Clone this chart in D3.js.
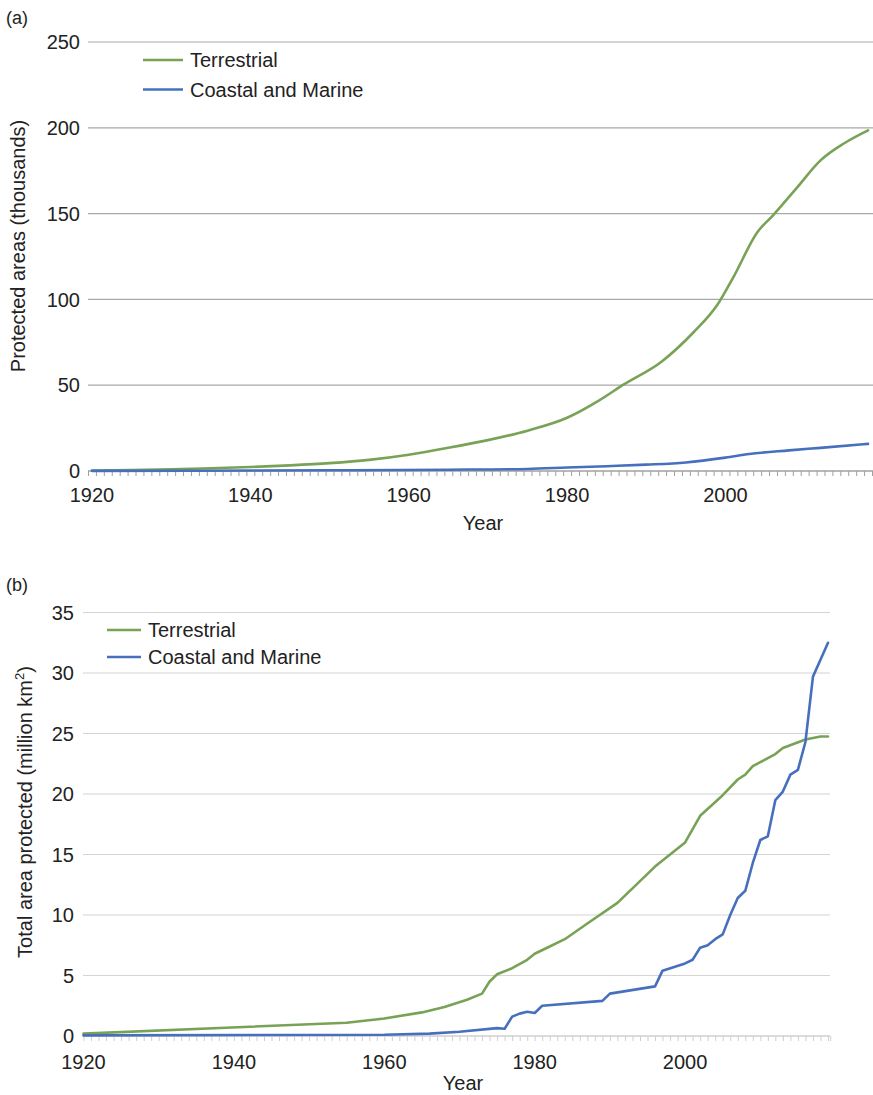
<!DOCTYPE html>
<html>
<head>
<meta charset="utf-8">
<script src="https://cdn.jsdelivr.net/npm/d3@7"></script>
<style>
  body { margin: 0; background: #fff; }
  svg { display: block; }
  text { font-family: "Liberation Sans", Arial, Helvetica, sans-serif; fill: #222; }
</style>
</head>
<body>
<svg id="chart" width="873" height="1095"></svg>
<script>
// ---------- DATA ----------
const seriesNames = ["Terrestrial", "Coastal and Marine"];
const seriesColors = ["#78a356", "#4670bd"];

// (a) Number of protected areas (thousands)
const aTerrestrialYears = [1920,1925,1930,1935,1940,1945,1950,1955,1960,1965,1970,1975,1980,1984,1987,1992,1996,1999,2001,2004,2006,2009,2012,2015,2018];
const aTerrestrialValues = [0.3,0.6,1.0,1.6,2.3,3.3,4.6,6.5,9.5,13.5,18,23.5,31,41,50,64,81,97,113,139,149,165,181,191,198.5];
const aMarineYears = [1920,1950,1965,1975,1980,1985,1990,1995,2000,2003,2008,2012,2018];
const aMarineValues = [0.1,0.4,0.75,1.2,2.0,2.8,3.7,5.0,7.8,9.9,12.0,13.5,15.8];
const aYTicks = [0,50,100,150,200,250];
const aXLabels = [1920,1940,1960,1980,2000];

// (b) Total area protected (million km2)
const bTerrestrialYears = [1920,1955,1960,1965,1968,1971,1973,1974,1975,1977,1979,1980,1982,1984,1987,1991,1996,2000,2002,2005,2007,2008,2009,2012,2013,2016,2018,2019];
const bTerrestrialValues = [0.2,1.1,1.45,1.95,2.4,3.0,3.5,4.5,5.1,5.6,6.3,6.8,7.4,8.0,9.3,11.0,14.0,16.0,18.2,19.9,21.2,21.6,22.3,23.3,23.8,24.5,24.75,24.75];
const bMarineYears = [1920,1960,1966,1970,1975,1976,1977,1978,1979,1980,1981,1989,1990,1996,1997,2000,2001,2002,2003,2004,2005,2006,2007,2008,2009,2010,2011,2012,2013,2014,2015,2016,2017,2018,2019];
const bMarineValues = [0.05,0.1,0.2,0.35,0.65,0.6,1.6,1.85,2.0,1.9,2.5,2.9,3.5,4.1,5.4,6.0,6.3,7.3,7.5,8.0,8.4,10.0,11.4,12.0,14.3,16.2,16.5,19.5,20.2,21.6,22.0,24.3,29.7,31.1,32.5];
const bYTicks = [0,5,10,15,20,25,30,35];
const bXLabels = [1920,1940,1960,1980,2000];

// ---------- DRAW ----------
const svg = d3.select("#chart");
const zip = (xs, ys) => xs.map((x, i) => ({x, y: ys[i]}));

function panel(cfg) {
  const g = svg.append("g");
  const x = d3.scaleLinear().domain(cfg.xDomain).range(cfg.xRange);
  const y = d3.scaleLinear().domain(cfg.yDomain).range(cfg.yRange);

  // gridlines
  g.append("g").selectAll("line").data(cfg.yTicks.filter(t => t !== 0)).join("line")
    .attr("x1", cfg.gridX[0]).attr("x2", cfg.gridX[1])
    .attr("y1", d => y(d)).attr("y2", d => y(d))
    .attr("stroke", cfg.gridColor).attr("stroke-width", 1.2);

  // y labels
  g.append("g").selectAll("text").data(cfg.yTicks).join("text")
    .attr("x", cfg.yLabelX).attr("y", d => y(d)).attr("dy", "0.36em")
    .attr("text-anchor", "end").attr("font-size", 20).text(d => d);

  // x axis with minor ticks
  const xAxis = d3.axisBottom(x).tickValues(cfg.tickYears).tickSize(5).tickFormat("");
  const ax = g.append("g").attr("transform", `translate(0,${y(0)})`).call(xAxis);
  ax.select(".domain").remove();
  ax.selectAll(".tick line").attr("stroke", cfg.axisColor).attr("stroke-width", 1);
  g.append("line").attr("x1", cfg.gridX[0]).attr("x2", cfg.gridX[1])
    .attr("y1", y(0)).attr("y2", y(0)).attr("stroke", cfg.axisColor).attr("stroke-width", 1.5);

  // x labels
  g.append("g").selectAll("text").data(cfg.xLabels).join("text")
    .attr("x", d => x(d)).attr("y", cfg.xLabelY).attr("text-anchor", "middle")
    .attr("font-size", 20).text(d => d);

  // lines
  const line = d3.line().x(d => x(d.x)).y(d => y(d.y)).curve(cfg.curve);
  cfg.series.forEach((s, i) => {
    g.append("path").datum(s).attr("d", line).attr("fill", "none")
      .attr("stroke", seriesColors[i]).attr("stroke-width", 2.6)
      .attr("stroke-linejoin", "round").attr("stroke-linecap", "round");
  });

  // legend
  seriesNames.forEach((n, i) => {
    const ly = cfg.legendY[i];
    g.append("line").attr("x1", cfg.legendX[0]).attr("x2", cfg.legendX[1])
      .attr("y1", ly).attr("y2", ly).attr("stroke", seriesColors[i]).attr("stroke-width", 2.6);
    g.append("text").attr("x", cfg.legendX[1] + 7).attr("y", ly).attr("dy", "0.36em")
      .attr("font-size", 20).text(n);
  });

  // axis titles
  g.append("text").attr("x", cfg.xTitle[0]).attr("y", cfg.xTitle[1])
    .attr("text-anchor", "middle").attr("font-size", 20).text("Year");
  const yt = g.append("text")
    .attr("transform", `translate(${cfg.yTitle[0]},${cfg.yTitle[1]}) rotate(-90)`)
    .attr("text-anchor", "middle").attr("font-size", 20);
  cfg.yTitleParts.forEach(p => {
    const t = yt.append("tspan").text(p.t);
    if (p.sup) t.attr("font-size", 13).attr("dy", -8);
    if (p.after) t.attr("dy", 8);
  });

  // panel letter
  g.append("text").attr("x", 6).attr("y", cfg.letterY).attr("font-size", 18).text(cfg.letter);
}

const aTicks = d3.range(1919.5, 2019, 1);
panel({
  xDomain: [1919.5, 2018.5], xRange: [88, 872],
  yDomain: [0, 250], yRange: [471, 42],
  gridX: [88, 873], gridColor: "#a8a8a8", axisColor: "#a0a0a0",
  yTicks: aYTicks, yLabelX: 80,
  tickYears: aTicks, xLabels: aXLabels, xLabelY: 502,
  curve: d3.curveMonotoneX,
  series: [zip(aTerrestrialYears, aTerrestrialValues), zip(aMarineYears, aMarineValues)],
  legendX: [143, 183], legendY: [60, 89.5],
  xTitle: [483, 530], yTitle: [25, 246],
  yTitleParts: [{t: "Protected areas (thousands)"}],
  letter: "(a)", letterY: 24
});

const bTicks = d3.range(1920, 2020, 1).concat([2019.3]);
panel({
  xDomain: [1920, 2019], xRange: [83.5, 828],
  yDomain: [0, 35], yRange: [1036, 612.5],
  gridX: [83, 830], gridColor: "#d4d4d4", axisColor: "#cfcfcf",
  yTicks: bYTicks, yLabelX: 74,
  tickYears: bTicks, xLabels: bXLabels, xLabelY: 1069,
  curve: d3.curveLinear,
  series: [zip(bTerrestrialYears, bTerrestrialValues), zip(bMarineYears, bMarineValues)],
  legendX: [107, 141], legendY: [630, 657],
  xTitle: [463, 1090], yTitle: [32, 812],
  yTitleParts: [{t: "Total area protected (million km"}, {t: "2", sup: true}, {t: ")", after: true}],
  letter: "(b)", letterY: 591
});
</script>
</body>
</html>
